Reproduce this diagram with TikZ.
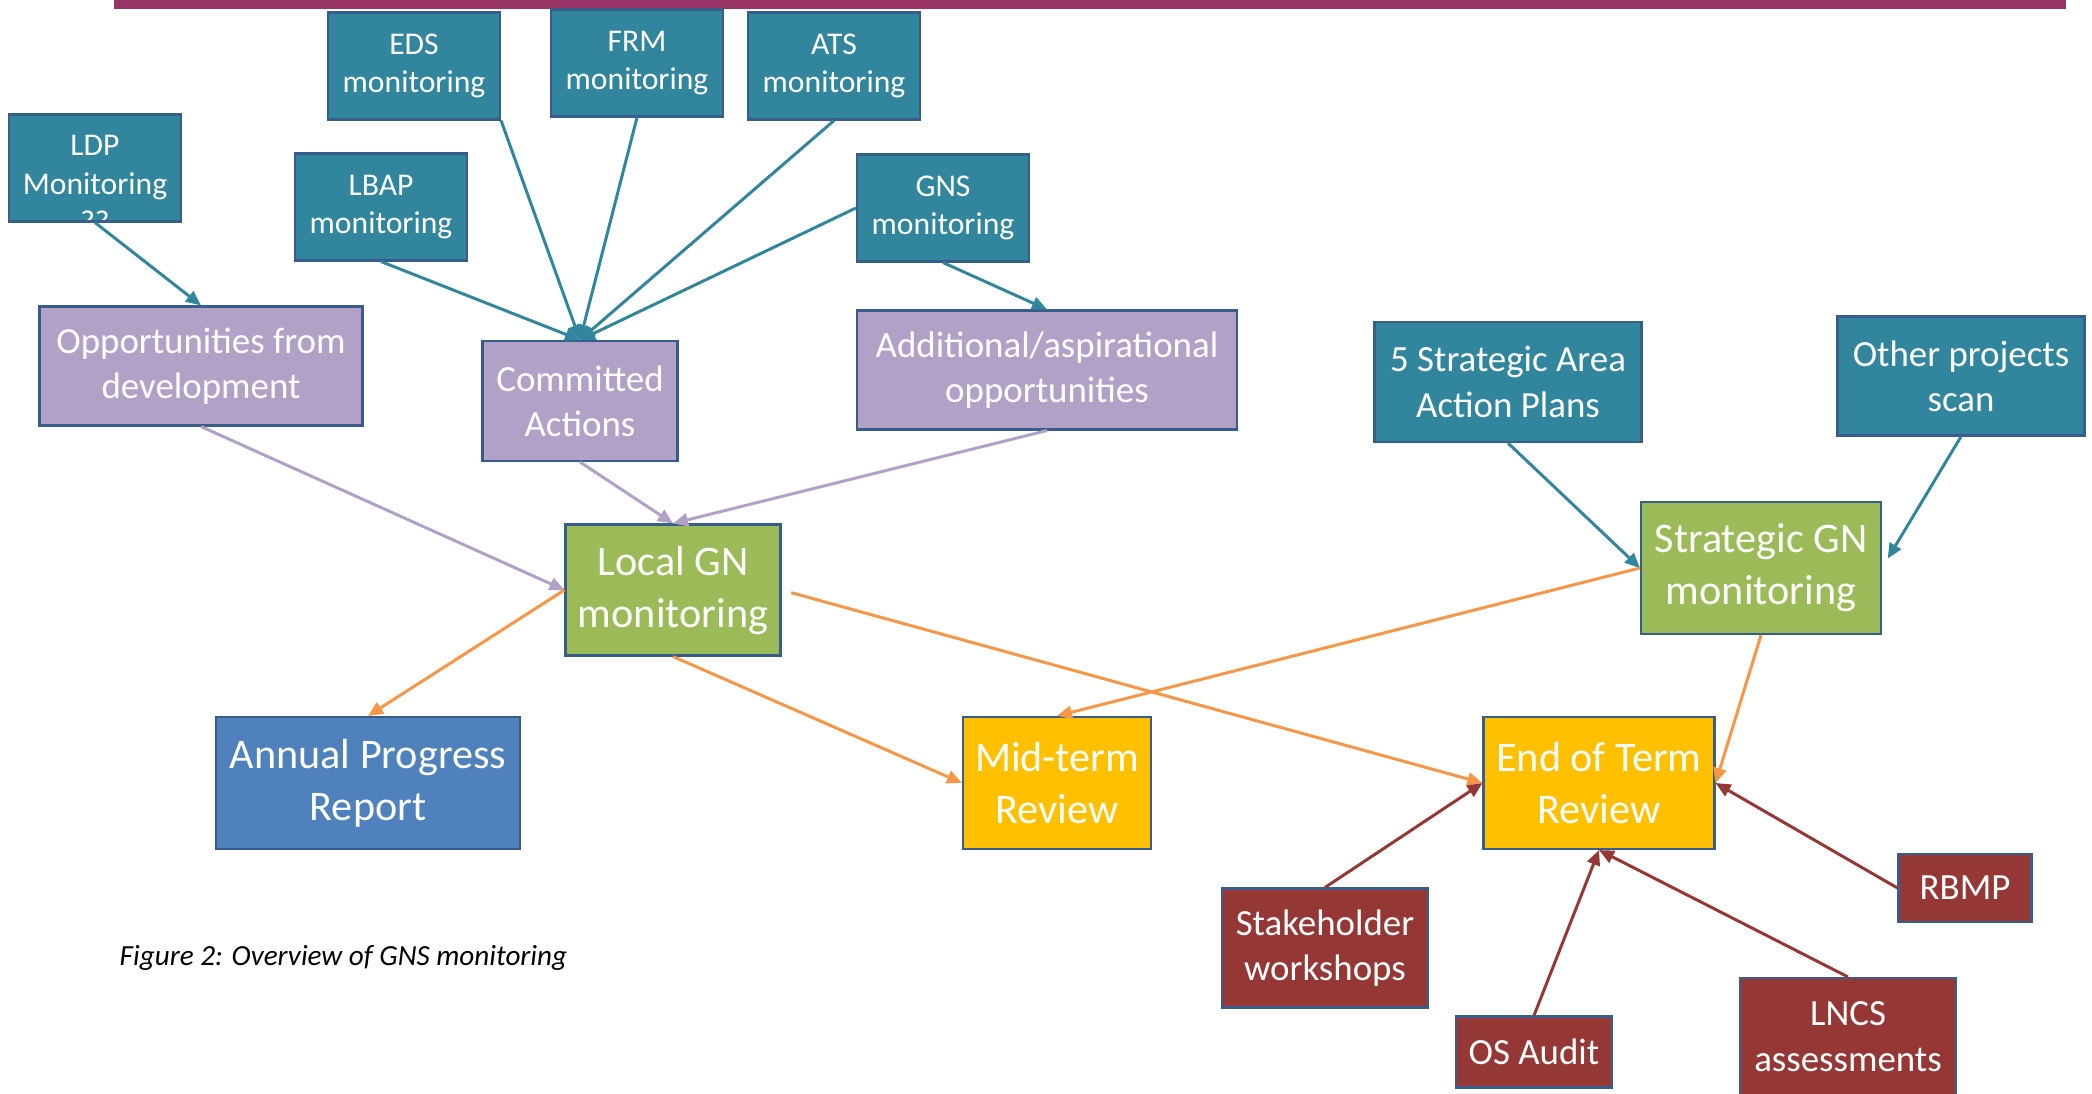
\documentclass[tikz,border=0pt]{standalone}
\usepackage{fontspec}
\setmainfont{Carlito}
\definecolor{barcol}{RGB}{153,51,102}
\definecolor{tealfill}{RGB}{49,133,156}
\definecolor{boxline}{RGB}{56,93,138}
\definecolor{lilac}{RGB}{178,161,199}
\definecolor{leaf}{RGB}{155,187,89}
\definecolor{steel}{RGB}{79,129,189}
\definecolor{amber}{RGB}{255,192,0}
\definecolor{brick}{RGB}{149,55,53}
\definecolor{tangerine}{RGB}{247,150,70}
\usetikzlibrary{arrows.meta}

\tikzset{
  box/.style={draw=boxline, line width=0.6pt, text=white, align=center, inner sep=0pt},
  tealbox/.style={box, fill=tealfill, minimum width=1.72cm, minimum height=1.07cm,
    font=\fontsize{9}{11}\selectfont},
  midtext/.style={font=\fontsize{10.5}{12.9}\selectfont},
  bigtext/.style={font=\fontsize{12}{14.8}\selectfont},
  arr/.style={-{Triangle[length=1.5mm,width=1.3mm]}, line width=0.85pt},
}

\begin{document}
\begin{tikzpicture}
  \useasboundingbox (0,0) rectangle (20.92,-10.94);
  \fill[barcol] (1.14,0) rectangle (20.66,-0.09);

  % monitoring inputs
  \node[tealbox] (eds) at (4.14,-0.66) {EDS\\monitoring};
  \node[tealbox] (frm) at (6.37,-0.63) {FRM\\monitoring};
  \node[tealbox] (ats) at (8.34,-0.66) {ATS\\monitoring};
  \node[tealbox, path picture={
      \node[text=white, align=center, font=\fontsize{9}{11}\selectfont]
        at ([yshift=-0.16cm]path picture bounding box.center) {LDP\\Monitoring\\??};}]
    (ldp) at (0.95,-1.68) {};
  \node[tealbox] (lbap) at (3.81,-2.07) {LBAP\\monitoring};
  \node[tealbox] (gns) at (9.43,-2.08) {GNS\\monitoring};

  \node[box, midtext, fill=lilac, minimum width=3.23cm, minimum height=1.19cm]
    (opp) at (2.01,-3.66) {Opportunities from\\development};
  \node[box, midtext, fill=lilac, minimum width=1.95cm, minimum height=1.20cm]
    (comm) at (5.80,-4.01) {Committed\\Actions};
  \node[box, midtext, fill=lilac, minimum width=3.80cm, minimum height=1.19cm]
    (addl) at (10.47,-3.70) {Additional/aspirational\\opportunities};
  \node[box, midtext, fill=tealfill, minimum width=2.67cm, minimum height=1.20cm]
    (saap) at (15.08,-3.82) {5 Strategic Area\\Action Plans};
  \node[box, midtext, fill=tealfill, minimum width=2.47cm, minimum height=1.19cm]
    (other) at (19.61,-3.76) {Other projects\\scan};

  % monitoring and reviews
  \node[box, bigtext, fill=leaf, minimum width=2.15cm, minimum height=1.31cm]
    (local) at (6.73,-5.90) {Local GN\\monitoring};
  \node[box, bigtext, fill=leaf, minimum width=2.40cm, minimum height=1.32cm]
    (strat) at (17.61,-5.68) {Strategic GN\\monitoring};
  \node[box, bigtext, fill=steel, minimum width=3.04cm, minimum height=1.32cm]
    (annual) at (3.68,-7.83) {Annual Progress\\Report};
  \node[box, bigtext, fill=amber, minimum width=1.88cm, minimum height=1.32cm]
    (mid) at (10.57,-7.83) {Mid-term\\Review};
  \node[box, bigtext, fill=amber, minimum width=2.31cm, minimum height=1.32cm]
    (eot) at (15.99,-7.83) {End of Term\\Review};

  % review evidence
  \node[box, midtext, fill=brick, minimum width=2.06cm, minimum height=1.19cm]
    (stake) at (13.25,-9.48) {Stakeholder\\workshops};
  \node[box, midtext, fill=brick, minimum width=1.56cm, minimum height=0.71cm]
    (os) at (15.34,-10.52) {OS Audit};
  \node[box, midtext, fill=brick, minimum width=2.16cm, minimum height=1.17cm]
    (lncs) at (18.48,-10.365) {LNCS\\assessments};
  \node[box, midtext, fill=brick, minimum width=1.33cm, minimum height=0.68cm]
    (rbmp) at (19.65,-8.88) {RBMP};

  \node[anchor=west, inner sep=0pt, font=\fontsize{8.3}{10}\selectfont\itshape] (cap)
    at (1.19,-9.58) {Figure 2: Overview of GNS monitoring};

  % connectors
  \draw[arr, tealfill] (ldp.south) -- (opp.north);
  \draw[arr, tealfill] (lbap.south) -- (comm.north);
  \draw[arr, tealfill] (eds.south east) -- (comm.north);
  \draw[arr, tealfill] (frm.south) -- (comm.north);
  \draw[arr, tealfill] (ats.south) -- (comm.north);
  \draw[arr, tealfill] (gns.west) -- (comm.north);
  \draw[arr, tealfill] (gns.south) -- (addl.north);
  \draw[arr, tealfill] (saap.south) -- (strat.west);
  \draw[arr, tealfill, shorten >=0.11cm] (other.south) -- (strat.east);

  \draw[arr, lilac] (opp.south) -- (local.west);
  \draw[arr, lilac] (comm.south) -- (local.north);
  \draw[arr, lilac] (addl.south) -- (local.north);

  \draw[arr, tangerine] (local.west) -- (annual.north);
  \draw[arr, tangerine] (local.south) -- (mid.west);
  \draw[arr, tangerine, shorten <=0.1cm] (local.east) -- (eot.west);
  \draw[arr, tangerine] (strat.west) -- (mid.north);
  \draw[arr, tangerine] (strat.south) -- (eot.east);

  \draw[arr, brick] (stake.north) -- (eot.west);
  \draw[arr, brick] (os.north) -- (eot.south);
  \draw[arr, brick] (lncs.north) -- (eot.south);
  \draw[arr, brick] (rbmp.west) -- (eot.east);
\end{tikzpicture}
\end{document}
